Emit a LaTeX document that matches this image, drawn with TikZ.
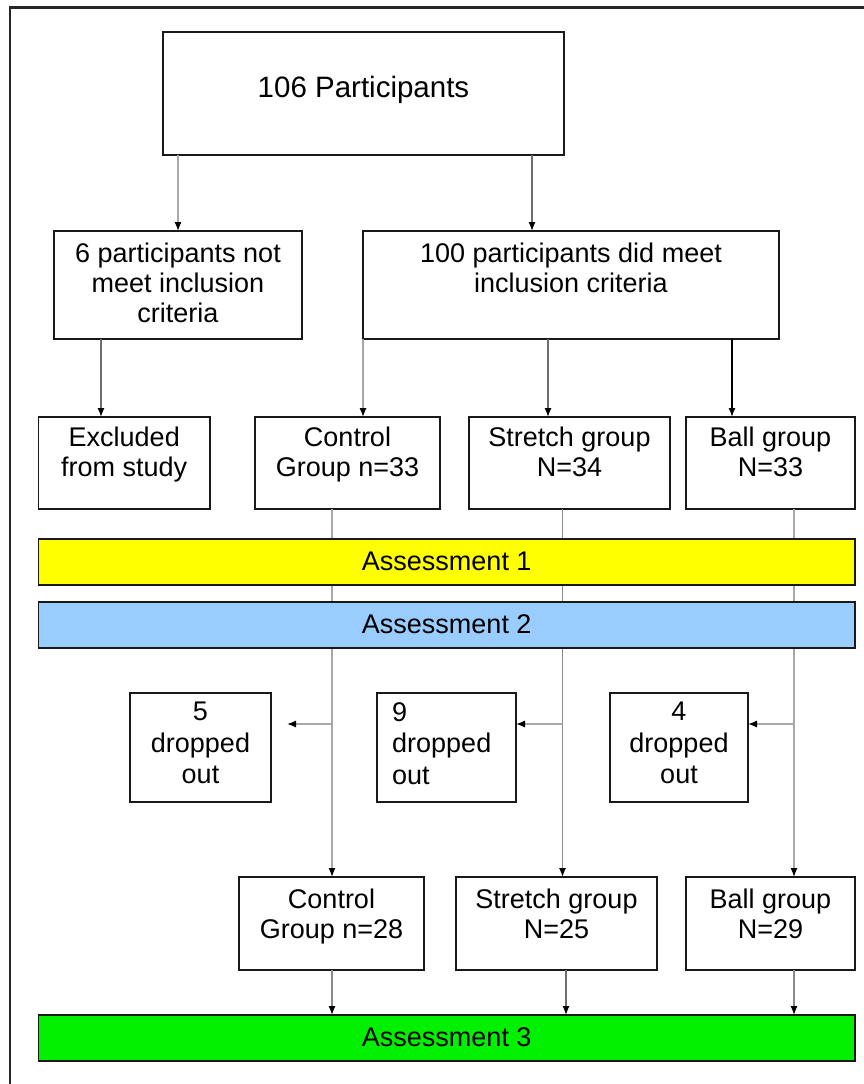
\documentclass[tikz,border=0pt]{standalone}
\usepackage{fontspec}
\setmainfont{Liberation Sans}
\usetikzlibrary{arrows.meta}
\definecolor{lgray}{HTML}{A8A8A8}
\definecolor{mgray}{HTML}{8A8A8A}
\definecolor{dgray}{HTML}{6E6E6E}
\definecolor{ayellow}{HTML}{FFFF00}
\definecolor{ablue}{HTML}{99CCFF}
\definecolor{agreen}{HTML}{00F000}
\begin{document}
\begin{tikzpicture}[x=1pt,y=-1pt,
  box/.style={draw=black!90, line width=1.6pt, inner sep=0pt, outer sep=0pt, anchor=north west},
  txt/.style={font=\fontsize{27}{30}\selectfont, align=center, inner sep=0pt, anchor=north, execute at begin node=\strut},
  bar/.style={draw=black!90, line width=1.6pt, inner sep=0pt, outer sep=0pt, anchor=north west,
    minimum width=816.5pt, minimum height=46pt, font=\fontsize{27}{30}\selectfont,
    text height=19.3pt, text depth=3pt},
  conn/.style={draw=mgray, line width=1.3pt, -{Latex[color=black,length=9pt,width=7pt]}},
  line/.style={draw=mgray, line width=1.3pt}]
\useasboundingbox (0,0) rectangle (863,1084);
\fill[white] (0,0) rectangle (863,1084);
% frame
\draw[line width=2.4pt, draw=black!85] (10,1090) -- (10,7.5) -- (870,7.5);
% boxes
\node[box, minimum width=401pt, minimum height=123pt] (top) at (163,32) {};
\node[txt, font=\fontsize{29.5}{32}\selectfont] (topt) at ([yshift=-42.6pt]top.north) {106 Participants};
\node[box, minimum width=248pt, minimum height=108pt] (six) at (54,231) {};
\node[txt] (sixt) at ([yshift=-12pt]six.north) {6 participants not\\meet inclusion\\criteria};
\node[box, minimum width=416pt, minimum height=108pt] (hund) at (363,231) {};
\node[txt] (hundt) at ([yshift=-12pt]hund.north) {100 participants did meet\\inclusion criteria};
\node[box, minimum width=171.5pt, minimum height=92pt] (excl) at (38.5,417) {};
\node[txt] (exclt) at ([yshift=-10pt]excl.north) {Excluded\\from study};
\node[box, minimum width=185pt, minimum height=92pt] (ctrl) at (255,417) {};
\node[txt] (ctrlt) at ([yshift=-10pt]ctrl.north) {Control\\Group n=33};
\node[box, minimum width=201pt, minimum height=92pt] (str) at (469,417) {};
\node[txt] (strt) at ([yshift=-10pt]str.north) {Stretch group\\N=34};
\node[box, minimum width=169pt, minimum height=92pt] (ball) at (686,417) {};
\node[txt] (ballt) at ([yshift=-10pt]ball.north) {Ball group\\N=33};
% dropped
\node[box, minimum width=141pt, minimum height=109pt] (d5) at (130,693) {};
\node[txt, font=\fontsize{27}{31.5}\selectfont] (d5t) at ([yshift=-9pt]d5.north) {5\\dropped\\out};
\node[box, minimum width=139pt, minimum height=109pt] (d9) at (377,693) {};
\node[txt, font=\fontsize{27}{31.5}\selectfont, align=left, anchor=north west] (d9t) at ([xshift=15pt,yshift=-9pt]d9.north west) {9\\dropped\\out};
\node[box, minimum width=138pt, minimum height=109pt] (d4) at (610,693) {};
\node[txt, font=\fontsize{27}{31.5}\selectfont] (d4t) at ([yshift=-9pt]d4.north) {4\\dropped\\out};
% bottom groups
\node[box, minimum width=185pt, minimum height=93pt] (ctrl2) at (239,877) {};
\node[txt] (ctrl2t) at ([yshift=-12pt]ctrl2.north) {Control\\Group n=28};
\node[box, minimum width=201pt, minimum height=93pt] (str2) at (456,877) {};
\node[txt] (str2t) at ([yshift=-12pt]str2.north) {Stretch group\\N=25};
\node[box, minimum width=169pt, minimum height=93pt] (ball2) at (686,877) {};
\node[txt] (ball2t) at ([yshift=-12pt]ball2.north) {Ball group\\N=29};
\node[bar, fill=agreen] (a3) at (38.5,1015) {Assessment 3};
% connectors
\draw[conn, draw=lgray] (178,0 |- top.south) -- (six.north);
\draw[conn, draw=dgray] (532,0 |- top.south) -- (532,0 |- hund.north);
\draw[conn, draw=dgray] (101,0 |- six.south) -- (101,0 |- excl.north);
\draw[conn, draw=lgray] (hund.south west) -- (hund.south west |- ctrl.north);
\draw[conn, draw=dgray] (548,0 |- hund.south) -- (548,0 |- str.north);
\draw[conn, draw=black, line width=1.5pt] (732,0 |- hund.south) -- (732,0 |- ball.north);
\draw[conn, draw=lgray] (332,0 |- ctrl.south) -- (332,0 |- ctrl2.north);
\draw[conn] (562.5,0 |- str.south) -- (562.5,0 |- str2.north);
\draw[conn, draw=lgray] (794,0 |- ball.south) -- (794,0 |- ball2.north);
\coordinate (b5) at (332,724);
\coordinate (e5) at (287,724);
\coordinate (b9) at (562.5,724);
\coordinate (b4) at (794,724);
\draw[conn, draw=lgray] (b5) -- (e5);
\draw[conn, draw=lgray] (b9) -- (d9.east |- b9);
\draw[conn, draw=lgray] (b4) -- (d4.east |- b4);
\draw[conn] (332,0 |- ctrl2.south) -- (332,0 |- a3.north);
\draw[conn, draw=dgray] (566,0 |- str2.south) -- (566,0 |- a3.north);
\draw[conn] (794,0 |- ball2.south) -- (794,0 |- a3.north);
% bars over lines
\node[bar, fill=ayellow] (a1) at (38.5,539) {Assessment 1};
\node[bar, fill=ablue] (a2) at (38.5,602) {Assessment 2};
\end{tikzpicture}
\end{document}
